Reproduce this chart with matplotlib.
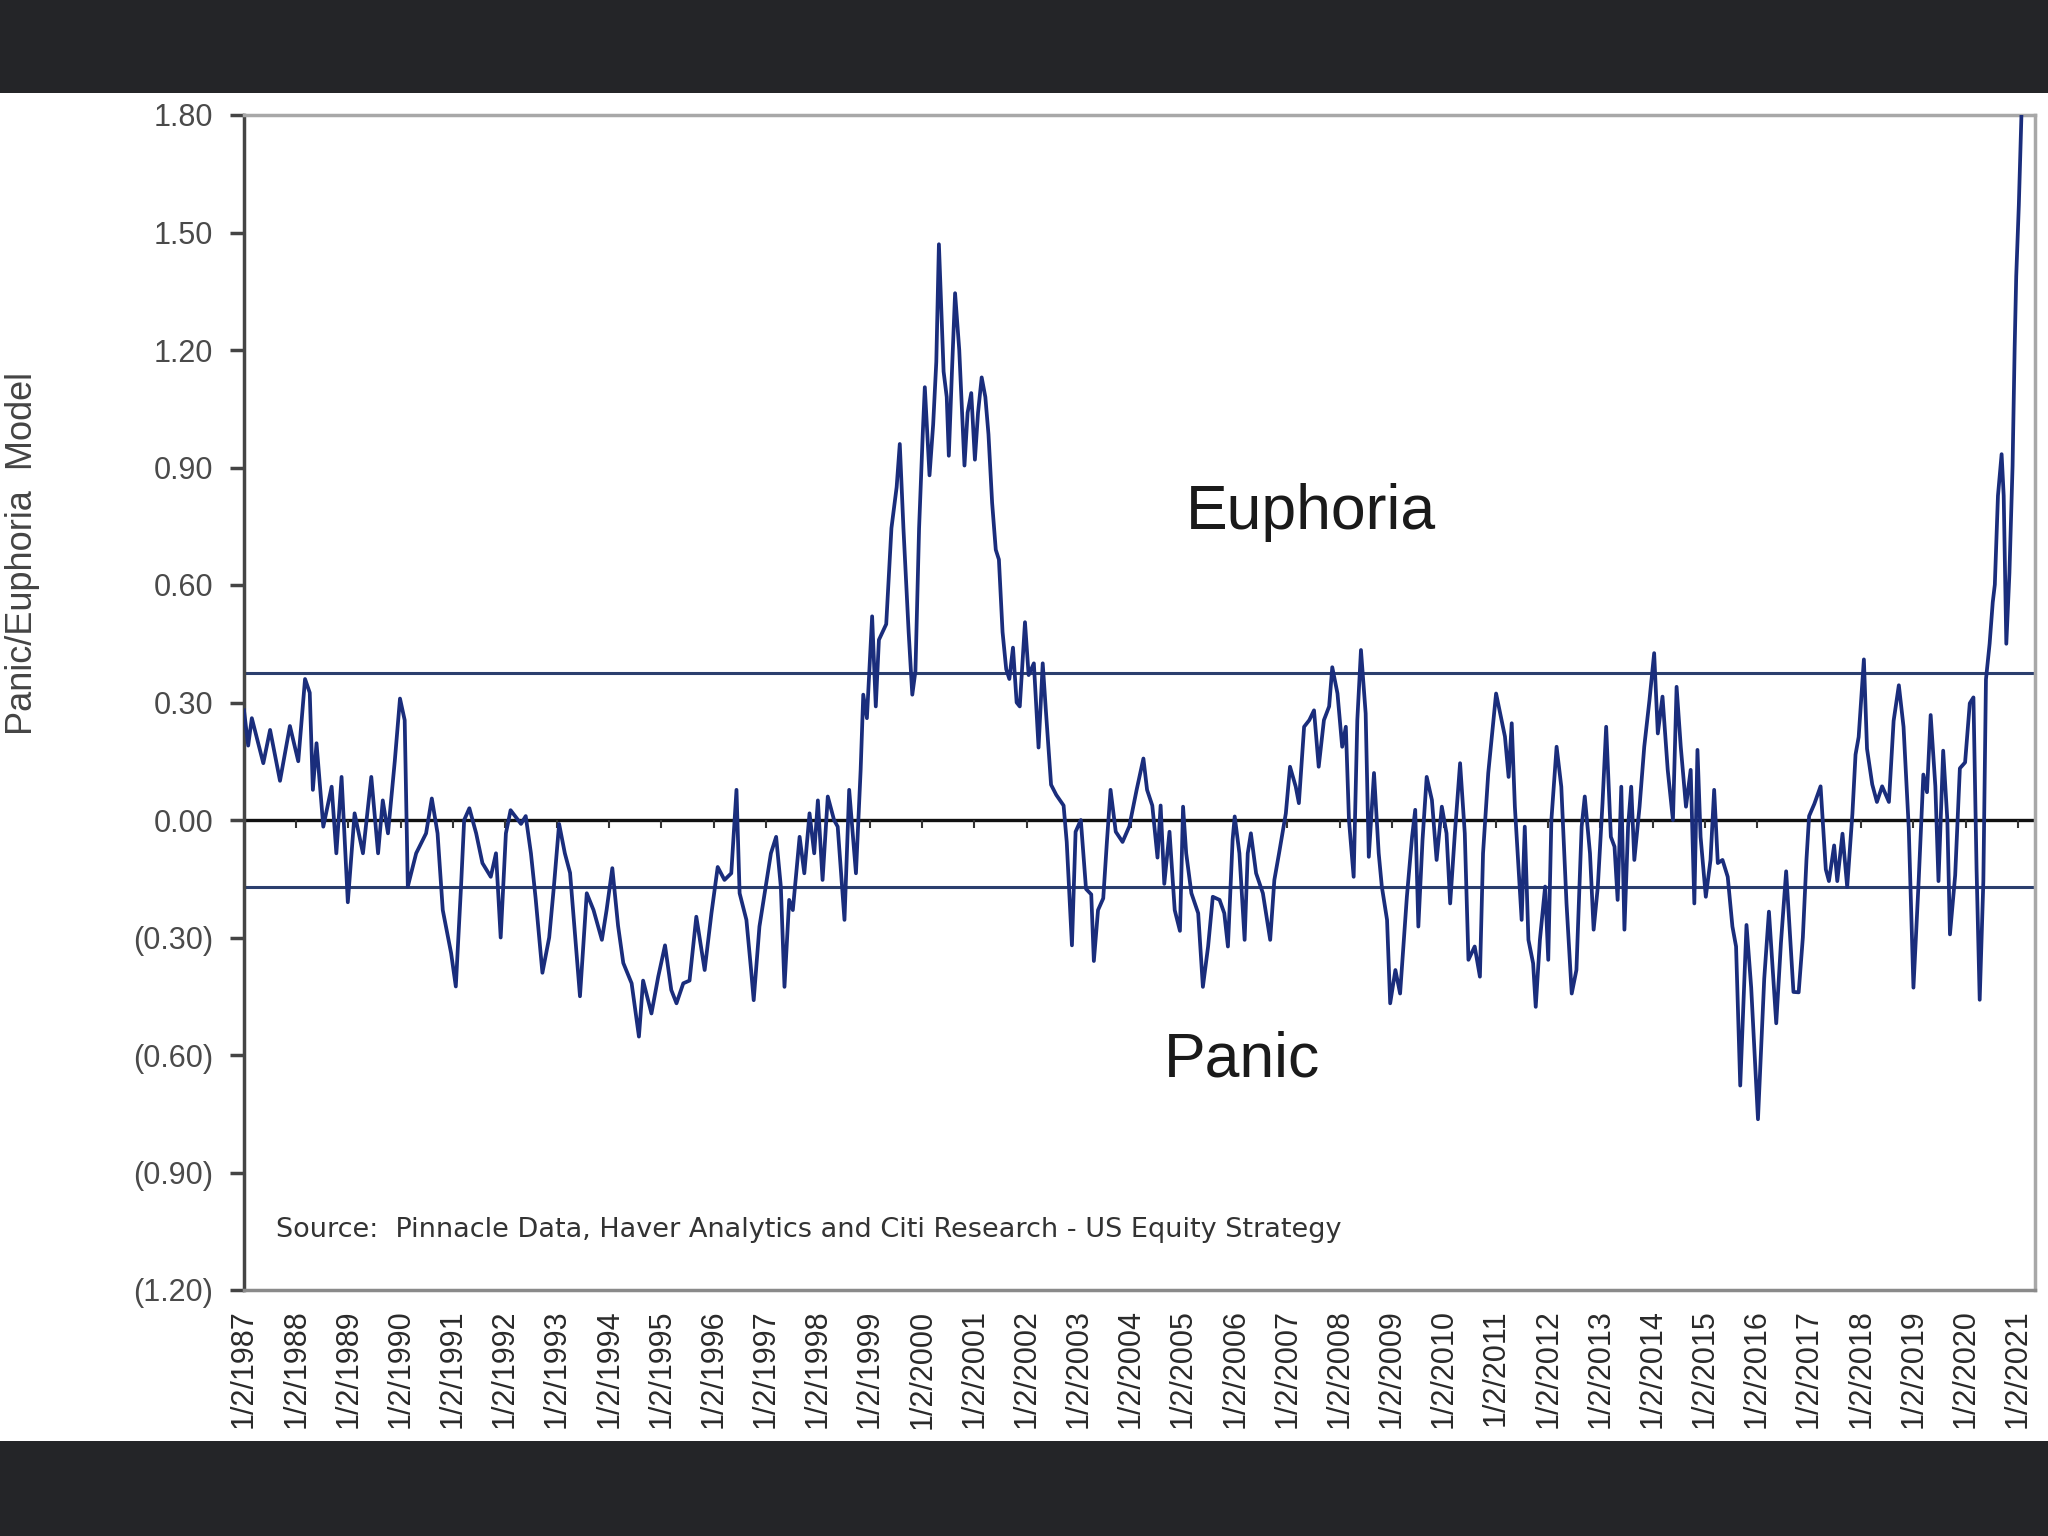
import matplotlib
matplotlib.use("Agg")
import matplotlib.pyplot as plt
from matplotlib.patches import Rectangle

# Panic/Euphoria model readings (decimal year, value)
seg_1987_1993 = [
    (1987.00, 0.28), (1987.08, 0.19), (1987.15, 0.26), (1987.37, 0.145), (1987.50, 0.23),
    (1987.69, 0.10), (1987.88, 0.24), (1988.04, 0.15), (1988.17, 0.36), (1988.26, 0.325),
    (1988.32, 0.077), (1988.39, 0.196), (1988.52, -0.017), (1988.68, 0.085), (1988.77, -0.085),
    (1988.87, 0.11), (1988.99, -0.21), (1989.12, 0.017), (1989.28, -0.085), (1989.44, 0.11),
    (1989.57, -0.085), (1989.66, 0.05), (1989.76, -0.034), (1989.89, 0.15), (1989.99, 0.31),
    (1990.08, 0.255), (1990.14, -0.17), (1990.30, -0.085), (1990.49, -0.034), (1990.60, 0.055),
    (1990.71, -0.034), (1990.81, -0.23), (1990.97, -0.34), (1991.06, -0.425), (1991.16, -0.17),
    (1991.22, 0.0), (1991.32, 0.03), (1991.45, -0.034), (1991.57, -0.11), (1991.73, -0.145),
    (1991.83, -0.085), (1991.92, -0.30), (1992.02, -0.034), (1992.11, 0.025), (1992.31, -0.01),
    (1992.40, 0.01), (1992.50, -0.085), (1992.59, -0.20), (1992.72, -0.39), (1992.85, -0.30),
    (1992.94, -0.17), (1993.04, -0.01),
]
seg_1993_1999 = [
    (1993.15, -0.085), (1993.25, -0.135), (1993.44, -0.45), (1993.57, -0.187), (1993.70, -0.23),
    (1993.86, -0.306), (1993.95, -0.23), (1994.06, -0.123), (1994.17, -0.27), (1994.27, -0.365),
    (1994.43, -0.417), (1994.57, -0.553), (1994.65, -0.41), (1994.81, -0.494), (1994.94, -0.40),
    (1995.07, -0.32), (1995.19, -0.434), (1995.29, -0.468), (1995.42, -0.417), (1995.54, -0.41),
    (1995.67, -0.247), (1995.83, -0.383), (1995.96, -0.238), (1996.08, -0.12), (1996.21, -0.153),
    (1996.34, -0.136), (1996.44, 0.077), (1996.50, -0.187), (1996.63, -0.255), (1996.72, -0.383),
    (1996.77, -0.46), (1996.88, -0.272), (1996.98, -0.187), (1997.10, -0.085), (1997.20, -0.043),
    (1997.29, -0.17), (1997.36, -0.426), (1997.45, -0.204), (1997.52, -0.23), (1997.65, -0.043),
    (1997.74, -0.136), (1997.84, 0.017), (1997.93, -0.085), (1998.00, 0.05), (1998.09, -0.153),
    (1998.19, 0.06), (1998.31, 0.0), (1998.38, -0.017), (1998.51, -0.255), (1998.60, 0.077),
    (1998.73, -0.136), (1998.82, 0.128),
]
seg_1999_2005 = [
    (1998.87, 0.32), (1998.94, 0.26), (1999.04, 0.52), (1999.11, 0.29), (1999.17, 0.46),
    (1999.24, 0.48), (1999.31, 0.50), (1999.41, 0.745), (1999.51, 0.85), (1999.57, 0.96),
    (1999.64, 0.745), (1999.74, 0.48), (1999.81, 0.32), (1999.87, 0.38), (1999.94, 0.745),
    (2000.01, 0.985), (2000.05, 1.105), (2000.14, 0.88), (2000.21, 1.01), (2000.27, 1.17),
    (2000.32, 1.47), (2000.41, 1.145), (2000.47, 1.08), (2000.51, 0.93), (2000.57, 1.145),
    (2000.63, 1.345), (2000.71, 1.20), (2000.77, 1.025), (2000.81, 0.905), (2000.87, 1.04),
    (2000.94, 1.09), (2001.01, 0.92), (2001.07, 1.04), (2001.14, 1.13), (2001.21, 1.08),
    (2001.27, 0.985), (2001.34, 0.81), (2001.41, 0.69), (2001.47, 0.665), (2001.54, 0.48),
    (2001.61, 0.385), (2001.67, 0.36), (2001.74, 0.44), (2001.81, 0.30), (2001.87, 0.29),
    (2001.97, 0.505), (2002.04, 0.37), (2002.14, 0.40), (2002.23, 0.185), (2002.31, 0.40),
    (2002.37, 0.28), (2002.47, 0.09), (2002.57, 0.064), (2002.71, 0.037), (2002.77, -0.056),
    (2002.87, -0.32), (2002.94, -0.03), (2003.04, 0.0), (2003.14, -0.176), (2003.24, -0.19),
    (2003.29, -0.36), (2003.37, -0.23), (2003.47, -0.20), (2003.54, -0.056), (2003.61, 0.077),
    (2003.71, -0.03), (2003.84, -0.056), (2003.97, -0.016), (2004.11, 0.077), (2004.24, 0.157),
    (2004.31, 0.077), (2004.41, 0.037), (2004.51, -0.096), (2004.57, 0.037), (2004.64, -0.163),
    (2004.74, -0.03), (2004.84, -0.23), (2004.94, -0.283),
]
seg_2005_2011 = [
    (2005.00, 0.034), (2005.06, -0.085), (2005.16, -0.187), (2005.29, -0.238), (2005.38, -0.426),
    (2005.48, -0.323), (2005.57, -0.196), (2005.70, -0.204), (2005.79, -0.238), (2005.86, -0.323),
    (2005.95, -0.05), (2005.99, 0.009), (2006.08, -0.085), (2006.18, -0.306), (2006.24, -0.085),
    (2006.30, -0.034), (2006.40, -0.136), (2006.53, -0.187), (2006.67, -0.306), (2006.75, -0.153),
    (2006.84, -0.085), (2006.97, 0.017), (2007.05, 0.136), (2007.16, 0.085), (2007.22, 0.043),
    (2007.32, 0.238), (2007.42, 0.255), (2007.51, 0.28), (2007.60, 0.136), (2007.70, 0.255),
    (2007.80, 0.29), (2007.86, 0.39), (2007.96, 0.323), (2008.05, 0.187), (2008.12, 0.238),
    (2008.18, 0.0), (2008.27, -0.145), (2008.34, 0.255), (2008.41, 0.434), (2008.50, 0.272),
    (2008.56, -0.094), (2008.66, 0.12), (2008.75, -0.085), (2008.81, -0.17), (2008.91, -0.255),
    (2008.97, -0.468), (2009.07, -0.383), (2009.16, -0.443), (2009.29, -0.196), (2009.39, -0.043),
    (2009.45, 0.026), (2009.51, -0.272), (2009.59, -0.051), (2009.67, 0.11), (2009.77, 0.051),
    (2009.86, -0.102), (2009.96, 0.034), (2010.05, -0.034), (2010.12, -0.213), (2010.21, -0.034),
    (2010.31, 0.145), (2010.40, -0.034), (2010.47, -0.357), (2010.59, -0.323), (2010.69, -0.40),
    (2010.75, -0.085), (2010.85, 0.12), (2011.00, 0.323),
]
seg_2011_2017 = [
    (2011.17, 0.213), (2011.24, 0.11), (2011.30, 0.247), (2011.36, 0.034), (2011.49, -0.255),
    (2011.55, -0.017), (2011.62, -0.306), (2011.71, -0.366), (2011.76, -0.477), (2011.84, -0.306),
    (2011.94, -0.17), (2012.00, -0.357), (2012.06, 0.0), (2012.16, 0.187), (2012.25, 0.085),
    (2012.35, -0.213), (2012.45, -0.443), (2012.54, -0.383), (2012.64, -0.017), (2012.70, 0.06),
    (2012.80, -0.085), (2012.87, -0.28), (2012.95, -0.17), (2013.04, 0.043), (2013.11, 0.238),
    (2013.20, -0.043), (2013.27, -0.068), (2013.33, -0.204), (2013.40, 0.085), (2013.46, -0.28),
    (2013.53, -0.017), (2013.59, 0.085), (2013.65, -0.102), (2013.75, 0.034), (2013.84, 0.187),
    (2013.94, 0.306), (2014.03, 0.426), (2014.10, 0.221), (2014.19, 0.315), (2014.29, 0.128),
    (2014.39, 0.0), (2014.46, 0.34), (2014.54, 0.187), (2014.64, 0.034), (2014.73, 0.128),
    (2014.80, -0.213), (2014.86, 0.179), (2014.92, -0.043), (2015.02, -0.196), (2015.11, -0.102),
    (2015.18, 0.077), (2015.25, -0.11), (2015.34, -0.102), (2015.44, -0.145), (2015.53, -0.272),
    (2015.60, -0.323), (2015.68, -0.678), (2015.80, -0.268), (2015.89, -0.428), (2016.02, -0.764),
    (2016.14, -0.405), (2016.23, -0.234), (2016.37, -0.519), (2016.46, -0.314), (2016.56, -0.131),
    (2016.70, -0.439), (2016.80, -0.44), (2016.88, -0.30), (2016.95, -0.10),
]
seg_2017_2021 = [
    (2017.00, 0.01), (2017.10, 0.041), (2017.22, 0.086), (2017.32, -0.126), (2017.38, -0.156),
    (2017.48, -0.065), (2017.54, -0.156), (2017.64, -0.035), (2017.73, -0.171), (2017.83, 0.016),
    (2017.89, 0.167), (2017.95, 0.212), (2018.05, 0.41), (2018.11, 0.182), (2018.21, 0.091),
    (2018.30, 0.046), (2018.40, 0.086), (2018.53, 0.046), (2018.62, 0.253), (2018.72, 0.344),
    (2018.81, 0.238), (2018.91, -0.02), (2019.00, -0.428), (2019.10, -0.156), (2019.19, 0.116),
    (2019.26, 0.071), (2019.33, 0.268), (2019.42, 0.086), (2019.48, -0.156), (2019.57, 0.177),
    (2019.65, 0.0), (2019.70, -0.292), (2019.80, -0.141), (2019.89, 0.132), (2019.99, 0.147),
    (2020.08, 0.298), (2020.15, 0.313), (2020.21, -0.126), (2020.27, -0.459), (2020.34, -0.156),
    (2020.39, 0.359), (2020.46, 0.45), (2020.52, 0.556), (2020.56, 0.601), (2020.62, 0.828),
    (2020.69, 0.934), (2020.73, 0.828), (2020.78, 0.45), (2020.84, 0.631), (2020.90, 0.904),
    (2020.94, 1.206), (2020.97, 1.388), (2021.02, 1.57), (2021.07, 1.80),
]

series = (seg_1987_1993 + seg_1993_1999 + seg_1999_2005
          + seg_2005_2011 + seg_2011_2017 + seg_2017_2021)
dates = [p[0] for p in series]
values = [p[1] for p in series]

years = list(range(1987, 2022))
year_labels = ["1/2/%d" % y for y in years]
y_ticks = [1.8, 1.5, 1.2, 0.9, 0.6, 0.3, 0.0, -0.3, -0.6, -0.9, -1.2]
y_labels = ["1.80", "1.50", "1.20", "0.90", "0.60", "0.30", "0.00",
            "(0.30)", "(0.60)", "(0.90)", "(1.20)"]
euphoria_level = 0.375
panic_level = -0.17

plt.rcParams['font.family'] = ['Liberation Sans', 'DejaVu Sans']

W, H = 2048, 1536
fig = plt.figure(figsize=(W / 100, H / 100), dpi=100)
fig.patch.set_facecolor('white')

# dark bands above and below the picture
fig.add_artist(Rectangle((0, 1 - 93 / H), 1, 93 / H, transform=fig.transFigure,
                         facecolor='#242528', edgecolor='none', zorder=0))
fig.add_artist(Rectangle((0, 0), 1, 95 / H, transform=fig.transFigure,
                         facecolor='#242528', edgecolor='none', zorder=0))

ax = fig.add_axes([244 / W, 1 - 1290 / H, (2035 - 244) / W, (1290 - 115) / H])
ax.set_xlim(1987.0, 2021.33)
ax.set_ylim(-1.2, 1.8)

ax.axhline(euphoria_level, color='#2c3f6e', lw=2.2, zorder=2)
ax.axhline(panic_level, color='#2c3f6e', lw=2.2, zorder=2)
ax.axhline(0, color='#111111', lw=2.4, zorder=2)
# little year marks hanging off the zero line
ax.plot(years, [0] * len(years), ls='none', marker=3, ms=6, mew=1.5,
        color='#333333', zorder=2)

ax.plot(dates, values, color='#1a2d7c', lw=2.7, zorder=3, clip_on=True)

ax.set_yticks(y_ticks, y_labels)
ax.set_xticks(years, year_labels, rotation=90)
ax.tick_params(axis='y', length=10, width=2.5, color='#444444', pad=12,
               labelsize=22, labelcolor='#4a4a4a')
ax.tick_params(axis='x', length=0, pad=14, labelsize=22, labelcolor='#2a2a2a')

for side, col in [('left', '#454545'), ('bottom', '#8a8a8a'),
                  ('top', '#a8a8a8'), ('right', '#a8a8a8')]:
    ax.spines[side].set_color(col)
    ax.spines[side].set_linewidth(2.5)

ax.text(0.596, 0.662, "Euphoria", transform=ax.transAxes, fontsize=45,
        ha='center', va='center', color='#1a1a1a')
ax.text(0.557, 0.196, "Panic", transform=ax.transAxes, fontsize=45,
        ha='center', va='center', color='#1a1a1a')
ax.text(0.018, 0.051,
        "Source:  Pinnacle Data, Haver Analytics and Citi Research - US Equity Strategy",
        transform=ax.transAxes, fontsize=19.5, family='DejaVu Sans',
        ha='left', va='center', color='#333333')

fig.text(23 / W, 1 - 553 / H, "Panic/Euphoria  Model", rotation=90,
         ha='center', va='center', fontsize=26, color='#444444')

fig.savefig("out.png", dpi=100, facecolor=fig.get_facecolor())
